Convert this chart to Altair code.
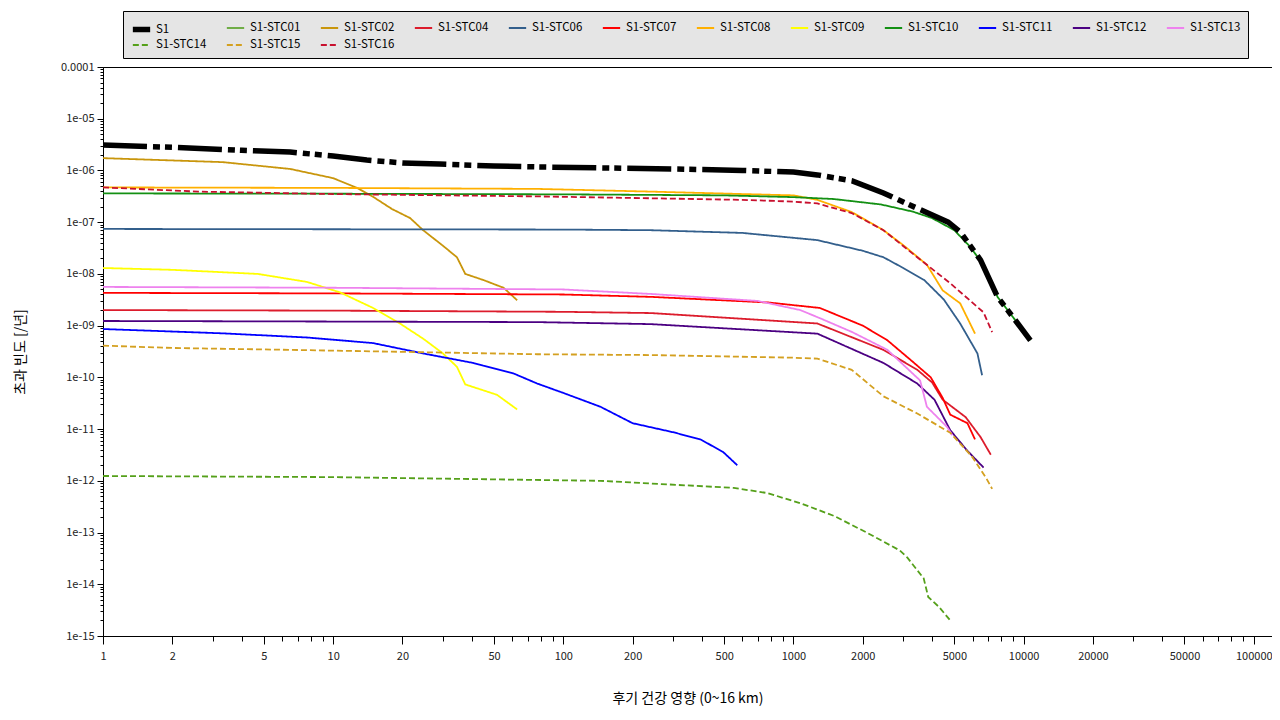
import altair as alt
import pandas as pd

SERIES = ["S1", "S1-STC01", "S1-STC02", "S1-STC04", "S1-STC06", "S1-STC07",
          "S1-STC08", "S1-STC09", "S1-STC10", "S1-STC11", "S1-STC12", "S1-STC13",
          "S1-STC14", "S1-STC15", "S1-STC16"]
COLORS = ["#000000", "#70ad47", "#c9960c", "#dc1c2c", "#335f8c", "#ff0000",
          "#ffb000", "#ffff00", "#139013", "#0000ff", "#4b0082", "#ee82ee",
          "#55a01a", "#d4a020", "#c8102e"]
DASHES = [[44, 6, 7, 5, 7, 6], [1, 0], [1, 0], [1, 0], [1, 0], [1, 0],
          [1, 0], [1, 0], [1, 0], [1, 0], [1, 0], [1, 0],
          [6, 3], [6, 3], [6, 3]]
WIDTHS = [5.5] + [1.8] * 14

s1_x = [1, 2, 4, 6.5, 10, 14, 20, 29, 50, 77, 150, 300, 600, 1000, 1270, 1800, 2460,
        3500, 4700, 5300, 6500, 7700, 9000, 10700]
s1_y = [3.1e-6, 2.8e-6, 2.45e-6, 2.27e-6, 1.9e-6, 1.59e-6, 1.4e-6, 1.33e-6, 1.22e-6,
        1.17e-6, 1.12e-6, 1.07e-6, 1.0e-6, 9.3e-7, 8.2e-7, 6.3e-7, 3.66e-7, 1.8e-7,
        1.0e-7, 6.5e-8, 1.85e-8, 3.6e-9, 1.45e-9, 5.2e-10]

stc02_x = [1, 3.3, 6.5, 10, 12.7, 14.9, 18, 21.6, 24.6, 30, 34.5, 37.5, 45, 55, 63]
stc02_y = [1.73e-6, 1.45e-6, 1.07e-6, 7.1e-7, 4.6e-7, 3.1e-7, 1.8e-7, 1.2e-7, 7.0e-8,
           3.5e-8, 2.1e-8, 1.0e-8, 7.6e-9, 5.4e-9, 3.1e-9]

stc04_x = [1, 10, 100, 240, 1270, 2460, 3450, 4000, 4450, 5600, 6500, 7200]
stc04_y = [2.0e-9, 1.95e-9, 1.85e-9, 1.75e-9, 1.1e-9, 3.4e-10, 1.4e-10, 8e-11,
           3.7e-11, 1.7e-11, 7e-12, 3.2e-12]

stc06_x = [1, 10, 100, 240, 600, 1270, 2000, 2460, 3000, 3700, 4500, 5300, 6300, 6600]
stc06_y = [7.4e-8, 7.3e-8, 7.2e-8, 7.0e-8, 6.2e-8, 4.5e-8, 2.8e-8, 2.1e-8, 1.3e-8,
           7.6e-9, 3.2e-9, 1.1e-9, 2.9e-10, 1.1e-10]

stc07_x = [1, 10, 100, 240, 780, 1300, 2000, 2560, 3300, 3950, 4450, 4800, 5700, 6150]
stc07_y = [4.3e-9, 4.2e-9, 4.0e-9, 3.6e-9, 2.8e-9, 2.2e-9, 1.0e-9, 5.2e-10, 2.0e-10,
           1.0e-10, 4.0e-11, 1.9e-11, 1.3e-11, 6.3e-12]

stc08_x = [1, 10, 77, 240, 600, 1000, 1270, 1790, 2460, 3000, 3800, 4450, 5300, 6150]
stc08_y = [4.7e-7, 4.6e-7, 4.4e-7, 3.9e-7, 3.5e-7, 3.3e-7, 2.7e-7, 1.57e-7, 7e-8,
           3.6e-8, 1.5e-8, 4.8e-9, 2.7e-9, 7e-10]

stc09_x = [1, 2, 4.7, 7.7, 10.7, 14.9, 19.5, 24.6, 30, 34.5, 37.5, 51.5, 63]
stc09_y = [1.3e-8, 1.2e-8, 1.0e-8, 7.0e-9, 4.4e-9, 2.2e-9, 1.1e-9, 5.6e-10, 2.9e-10,
           1.6e-10, 7.3e-11, 4.6e-11, 2.4e-11]

stc10_x = [1, 10, 100, 500, 1000, 1500, 2400, 3300, 4000, 5000, 5800, 6700, 7700,
           9000, 10700]
stc10_y = [3.6e-7, 3.55e-7, 3.45e-7, 3.3e-7, 3.05e-7, 2.8e-7, 2.2e-7, 1.6e-7, 1.2e-7,
           7e-8, 3.5e-8, 1.5e-8, 3.6e-9, 1.45e-9, 5.2e-10]

stc11_x = [1, 3.3, 7.7, 14.9, 24.6, 40.6, 60.5, 77, 100, 145, 200, 300, 395, 495, 570]
stc11_y = [8.6e-10, 7.1e-10, 5.9e-10, 4.6e-10, 2.9e-10, 1.9e-10, 1.2e-10, 7.6e-11,
           5e-11, 2.7e-11, 1.3e-11, 8.7e-12, 6.3e-12, 3.6e-12, 2.0e-12]

stc12_x = [1, 10, 77, 240, 1270, 2460, 3450, 4100, 4800, 5670, 6700]
stc12_y = [1.23e-9, 1.2e-9, 1.17e-9, 1.07e-9, 7.0e-10, 1.9e-10, 7.6e-11, 3.7e-11,
           9.5e-12, 3.9e-12, 1.8e-12]

stc13_x = [1, 10, 100, 240, 700, 1070, 1300, 1800, 2560, 3550, 3800, 4650, 4900]
stc13_y = [5.6e-9, 5.4e-9, 5.0e-9, 4.1e-9, 3.0e-9, 2.0e-9, 1.4e-9, 7.5e-10, 3.4e-10,
           8.7e-11, 2.7e-11, 1.1e-11, 7.6e-12]

stc14_x = [1, 10, 145, 550, 770, 1070, 1500, 2080, 2900, 3120, 3680, 3850, 4300, 4800]
stc14_y = [1.24e-12, 1.18e-12, 1.0e-12, 7.3e-13, 5.8e-13, 3.7e-13, 2.1e-13, 1.0e-13,
           4.5e-14, 3.3e-14, 1.3e-14, 5.7e-15, 3.6e-15, 2.0e-15]

stc15_x = [1, 2, 6.5, 77, 240, 1000, 1270, 1790, 2460, 3450, 4800, 5980, 6900, 7300]
stc15_y = [4.1e-10, 3.7e-10, 3.4e-10, 2.8e-10, 2.7e-10, 2.4e-10, 2.3e-10, 1.4e-10,
           4.3e-11, 2.0e-11, 8.5e-12, 2.9e-12, 1.1e-12, 7e-13]

stc16_x = [1, 2.6, 10, 77, 240, 600, 1000, 1270, 1790, 2460, 3450, 4800, 6700, 7300]
stc16_y = [4.7e-7, 3.9e-7, 3.5e-7, 3.15e-7, 2.9e-7, 2.7e-7, 2.5e-7, 2.3e-7, 1.5e-7,
           7e-8, 2.1e-8, 6.6e-9, 1.8e-9, 7.5e-10]

X_MAJOR = [1, 2, 5, 10, 20, 50, 100, 200, 500, 1000, 2000, 5000, 10000, 20000,
           50000, 100000]
X_MINOR = [m * 10 ** d for d in range(5) for m in (3, 4, 6, 7, 8, 9)]
Y_MAJOR = [10.0 ** -e for e in range(4, 16)]
Y_MINOR = [m * 10.0 ** -e for e in range(5, 16) for m in range(2, 10)]

series_data = [
    ("S1", s1_x, s1_y), ("S1-STC02", stc02_x, stc02_y), ("S1-STC04", stc04_x, stc04_y),
    ("S1-STC06", stc06_x, stc06_y), ("S1-STC07", stc07_x, stc07_y),
    ("S1-STC08", stc08_x, stc08_y), ("S1-STC09", stc09_x, stc09_y),
    ("S1-STC10", stc10_x, stc10_y), ("S1-STC11", stc11_x, stc11_y),
    ("S1-STC12", stc12_x, stc12_y), ("S1-STC13", stc13_x, stc13_y),
    ("S1-STC14", stc14_x, stc14_y), ("S1-STC15", stc15_x, stc15_y),
    ("S1-STC16", stc16_x, stc16_y),
]
rows = []
for name, xs, ys in series_data:
    for i, (a, b) in enumerate(zip(xs, ys)):
        rows.append({"series": name, "x": a, "y": b, "i": i})
df = pd.DataFrame(rows)

FONT = "Noto Sans CJK KR"
xscale = alt.Scale(type="log", domain=[1, 120000], nice=False)
yscale = alt.Scale(type="log", domain=[1e-15, 1e-4], nice=False)

legend = alt.Legend(
    title=None, orient="none", legendX=20, legendY=-56, direction="horizontal",
    columns=12, gridAlign="none", fillColor="#e5e5e5", strokeColor="#000000",
    padding=7, symbolType="stroke", symbolSize=300,
    labelFont=FONT, labelFontSize=11.5,
    labelColor="#000000", columnPadding=16, rowPadding=-6, labelOffset=3, labelLimit=200,
)
color = alt.Color("series:N", scale=alt.Scale(domain=SERIES, range=COLORS), legend=legend)
dash = alt.StrokeDash("series:N", scale=alt.Scale(domain=SERIES, range=DASHES), legend=legend)
width = alt.StrokeWidth("series:N", scale=alt.Scale(type="ordinal", domain=SERIES, range=WIDTHS),
                        legend=legend)

base = alt.Chart(df)

minor = base.transform_filter(alt.datum.series != "S1").mark_line(clip=True).encode(
    x=alt.X("x:Q", scale=xscale, axis=alt.Axis(
        values=X_MINOR, labels=False, tickSize=5, domain=False, grid=False,
        title=None, orient="bottom", tickColor="#000000")),
    y=alt.Y("y:Q", scale=yscale, axis=alt.Axis(
        values=Y_MINOR, labels=False, tickSize=3, domain=False, grid=False,
        title=None, orient="left", tickColor="#000000")),
    color=color, strokeDash=dash, strokeWidth=width, order="i:Q",
)

major = base.transform_filter(alt.datum.series == "S1").mark_line(clip=True).encode(
    x=alt.X("x:Q", scale=xscale, axis=alt.Axis(
        values=X_MAJOR, format="d", tickSize=8, labelPadding=6, grid=False,
        orient="bottom", title="후기 건강 영향 (0~16 km)", titleFont=FONT,
        titleFontSize=14, titleFontWeight="normal", titlePadding=30,
        labelFont=FONT, labelFontSize=11, labelColor="#222222",
        tickColor="#000000", domainColor="#000000", labelFlush=False)),
    y=alt.Y("y:Q", scale=yscale, axis=alt.Axis(
        values=Y_MAJOR, tickSize=6, labelPadding=3, grid=False, orient="left",
        labelExpr="datum.value >= 0.00009 ? '0.0001' : '1e-' + (round(-log(datum.value)/LN10) < 10 ? '0' : '') + round(-log(datum.value)/LN10)",
        title="초과 빈도 [/년]", titleFont=FONT, titleFontSize=14,
        titleFontWeight="normal", titlePadding=33, labelFont=FONT, labelFontSize=11,
        labelColor="#222222", tickColor="#000000", domainColor="#000000")),
    color=color, strokeDash=dash, strokeWidth=width, order="i:Q",
)

chart = alt.layer(minor, major).resolve_axis(x="independent", y="independent").properties(
    width=1169, height=569,
    autosize=alt.AutoSizeParams(type="none"),
    padding={"left": 95, "top": 59, "right": 0, "bottom": 74},
).configure_view(stroke="#000000", strokeWidth=1).configure_legend(gridAlign="none")

chart.save("out.html", embed_options={"renderer": "svg", "actions": False})
